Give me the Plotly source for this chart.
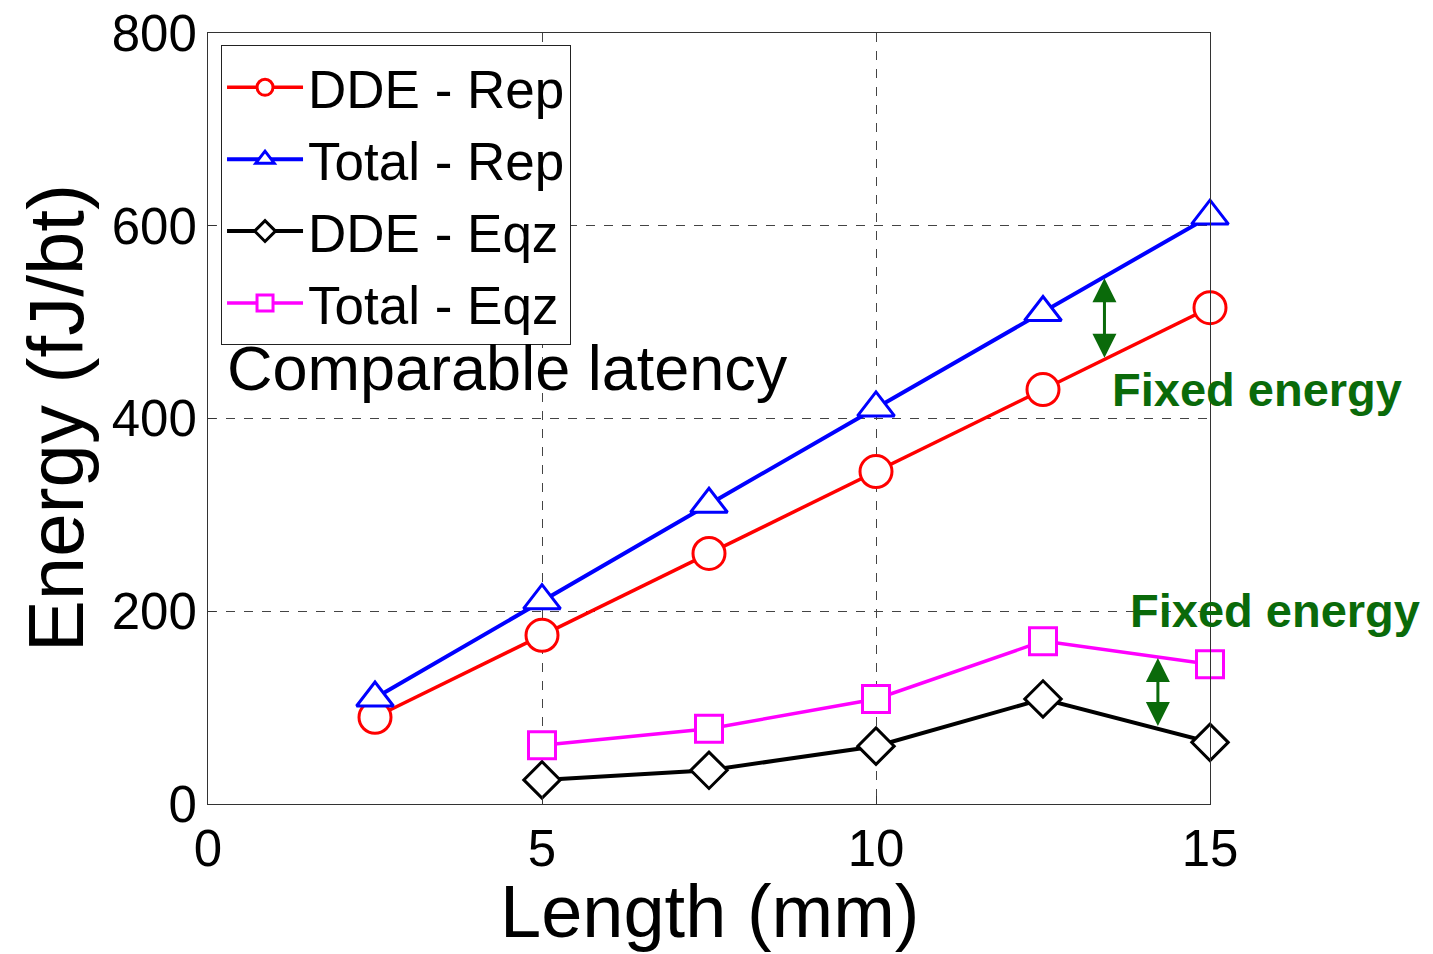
import plotly.graph_objects as go

length_rep = [2.5, 5, 7.5, 10, 12.5, 15]
dde_rep = [90, 175, 260, 345, 430, 515]
total_rep = [110, 211, 311, 411, 510, 610]

length_eqz = [5, 7.5, 10, 12.5, 15]
dde_eqz = [25, 35, 60, 109, 64]
total_eqz = [61, 78, 109, 169, 145]

x_ticks = [0, 5, 10, 15]
y_ticks = [0, 200, 400, 600, 800]

FONT = "Liberation Sans, Arial, sans-serif"
GREEN = "#0a6a0a"

fig = go.Figure()

def add(name, x, y, color, symbol, size, lw):
    fig.add_trace(go.Scatter(
        x=x, y=y, name=name, mode="lines+markers", cliponaxis=False,
        line=dict(color=color, width=lw),
        marker=dict(symbol=symbol, size=size, color="white",
                    line=dict(color=color, width=3)),
    ))

add("DDE - Rep", length_rep, dde_rep, "#ff0000", "circle", 32, 3.5)
add("Total - Rep", length_rep, total_rep, "#0000ff", "triangle-up", 32, 4)
add("DDE - Eqz", length_eqz, dde_eqz, "#000000", "diamond", 28, 4)
add("Total - Eqz", length_eqz, total_eqz, "#ff00ff", "square", 27, 3.5)

axis_common = dict(
    showline=True, linecolor="#333333", linewidth=1, mirror=True,
    showgrid=True, gridcolor="#444444", griddash="dash", gridwidth=1,
    zeroline=False, ticks="inside", ticklen=8, tickcolor="#333333",
    tickfont=dict(family=FONT, size=51, color="black"),
    automargin=False, ticklabeloverflow="allow",
)

fig.update_xaxes(range=[0, 15], tickvals=x_ticks, **axis_common)
fig.update_yaxes(range=[0, 800], tickvals=y_ticks, **axis_common)

# axis titles
fig.add_annotation(x=0.5, y=-0.196, xref="paper", yref="paper", text="Length (mm)",
                   showarrow=False, xanchor="center", yanchor="bottom",
                   font=dict(family=FONT, size=74, color="black"))
fig.add_annotation(x=-0.152, y=0.5, xref="paper", yref="paper", text="Energy (fJ/bt)",
                   showarrow=False, xanchor="center", yanchor="middle", textangle=-90,
                   font=dict(family=FONT, size=78, color="black"))

# text annotations
fig.add_annotation(x=0.25, y=452, xref="x", yref="y", text="Comparable latency",
                   showarrow=False, xanchor="left", yanchor="middle",
                   font=dict(family=FONT, size=63, color="black"))
fig.add_annotation(x=13.5, y=430, xref="x", yref="y", text="<b>Fixed energy</b>",
                   showarrow=False, xanchor="left", yanchor="middle",
                   font=dict(family=FONT, size=47, color=GREEN))
fig.add_annotation(x=13.77, y=201, xref="x", yref="y", text="<b>Fixed energy</b>",
                   showarrow=False, xanchor="left", yanchor="middle",
                   font=dict(family=FONT, size=47, color=GREEN))

for ax_x, y_top, y_bot in [(13.42, 547, 463), (14.22, 153, 81)]:
    fig.add_annotation(x=ax_x, y=y_bot, ax=ax_x, ay=y_top, xref="x", yref="y",
                       axref="x", ayref="y", text="", showarrow=True,
                       arrowhead=2, arrowside="end+start", arrowsize=1.6,
                       arrowwidth=3, arrowcolor=GREEN, standoff=0, startstandoff=0)

fig.update_layout(
    width=1433, height=954,
    margin=dict(l=200, r=231, t=25, b=158),
    plot_bgcolor="white", paper_bgcolor="white",
    font=dict(family=FONT, color="black"),
    legend=dict(x=0.013, y=0.984, xanchor="left", yanchor="top",
                bgcolor="white", bordercolor="#222222", borderwidth=1,
                font=dict(family=FONT, size=53, color="black"),
                tracegroupgap=0, itemwidth=76),
    showlegend=True,
)

fig.write_html("out.html")
